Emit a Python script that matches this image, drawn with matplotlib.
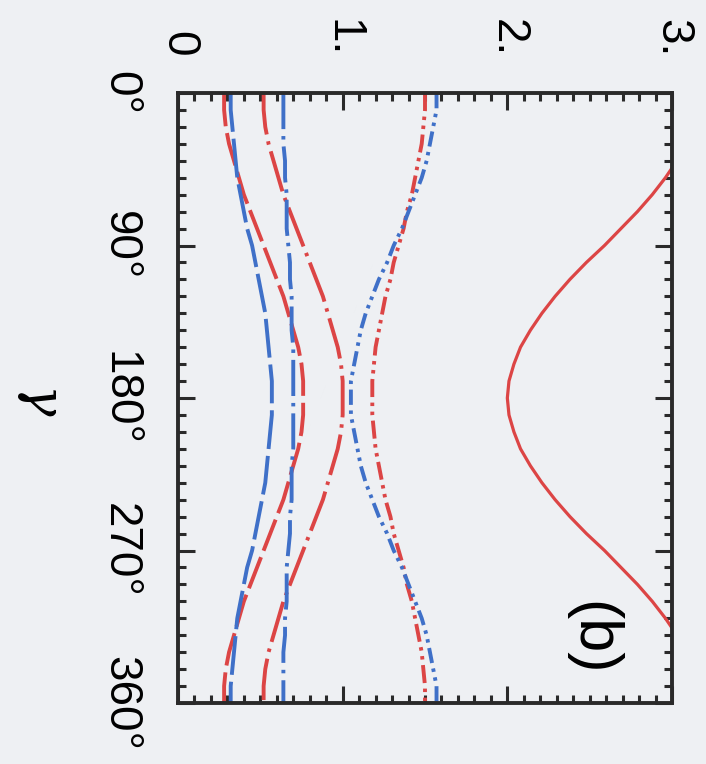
import matplotlib.pyplot as plt
from matplotlib.ticker import MultipleLocator

plt.rcParams['font.family'] = ['Liberation Sans', 'DejaVu Sans']
plt.rcParams['mathtext.fontset'] = 'dejavuserif'
plt.rcParams['lines.scale_dashes'] = False

# gamma in degrees (drawn downwards, the whole panel is turned a quarter clockwise)
gamma = list(range(0, 361, 10))

# curves, symmetric about 180 deg
red_dash = [0.28, 0.28, 0.29, 0.31, 0.34, 0.37, 0.40, 0.44, 0.48, 0.52, 0.56, 0.60, 0.64, 0.67, 0.70, 0.73, 0.75, 0.76, 0.76,
            0.76, 0.75, 0.73, 0.70, 0.67, 0.64, 0.60, 0.56, 0.52, 0.48, 0.44, 0.40, 0.37, 0.34, 0.31, 0.29, 0.28, 0.28]
blue_dash = [0.32, 0.32, 0.33, 0.34, 0.35, 0.36, 0.38, 0.40, 0.42, 0.45, 0.47, 0.49, 0.51, 0.53, 0.54, 0.55, 0.56, 0.57, 0.57,
             0.57, 0.56, 0.55, 0.54, 0.53, 0.51, 0.49, 0.47, 0.45, 0.42, 0.40, 0.38, 0.36, 0.35, 0.34, 0.33, 0.32, 0.32]
red_dashdot = [0.52, 0.52, 0.53, 0.55, 0.58, 0.61, 0.64, 0.68, 0.72, 0.76, 0.80, 0.84, 0.88, 0.91, 0.94, 0.97, 0.99, 1.00, 1.00,
               1.00, 0.99, 0.97, 0.94, 0.91, 0.88, 0.84, 0.80, 0.76, 0.72, 0.68, 0.64, 0.61, 0.58, 0.55, 0.53, 0.52, 0.52]
blue_dashdot = [0.64, 0.64, 0.64, 0.64, 0.65, 0.65, 0.66, 0.66, 0.66, 0.67, 0.68, 0.68, 0.69, 0.69, 0.69, 0.70, 0.70, 0.70, 0.70,
                0.70, 0.70, 0.70, 0.69, 0.69, 0.69, 0.68, 0.68, 0.67, 0.66, 0.66, 0.66, 0.65, 0.65, 0.64, 0.64, 0.64, 0.64]
red_dd = [1.50, 1.50, 1.49, 1.48, 1.46, 1.44, 1.42, 1.39, 1.37, 1.34, 1.31, 1.29, 1.26, 1.24, 1.22, 1.20, 1.19, 1.18, 1.18,
          1.18, 1.19, 1.20, 1.22, 1.24, 1.26, 1.29, 1.31, 1.34, 1.37, 1.39, 1.42, 1.44, 1.46, 1.48, 1.49, 1.50, 1.50]
blue_dd = [1.57, 1.57, 1.55, 1.53, 1.51, 1.48, 1.44, 1.40, 1.36, 1.31, 1.27, 1.22, 1.18, 1.14, 1.11, 1.09, 1.07, 1.05, 1.05,
           1.05, 1.07, 1.09, 1.11, 1.14, 1.18, 1.22, 1.27, 1.31, 1.36, 1.40, 1.44, 1.48, 1.51, 1.53, 1.55, 1.57, 1.57]
red_solid = [3.17, 3.16, 3.13, 3.09, 3.03, 2.96, 2.88, 2.79, 2.69, 2.59, 2.48, 2.38, 2.29, 2.21, 2.14, 2.08, 2.04, 2.01, 2.00,
             2.01, 2.04, 2.08, 2.14, 2.21, 2.29, 2.38, 2.48, 2.59, 2.69, 2.79, 2.88, 2.96, 3.03, 3.09, 3.13, 3.16, 3.17]

value_ticks = [0, 1, 2, 3]
value_labels = ['0', '1.', '2.', '3.']
gamma_ticks = [0, 90, 180, 270, 360]
gamma_labels = ['0°', '90°', '180°', '270°', '360°']

RED = '#dc4545'
BLUE = '#3f70c8'
BG = '#eef0f3'

fig = plt.figure(figsize=(7.06, 7.64), dpi=100, facecolor=BG)
ax = fig.add_axes([178 / 706, 1 - 703 / 764, 494 / 706, 610 / 764], facecolor=BG)

lw = 2.8
ax.plot(red_dash, gamma, color=RED, lw=lw, linestyle=(0, (24, 5)))
ax.plot(blue_dash, gamma, color=BLUE, lw=lw, linestyle=(0, (28, 5)))
ax.plot(red_dashdot, gamma, color=RED, lw=lw, linestyle=(0, (30, 5, 2.5, 5)))
ax.plot(blue_dashdot, gamma, color=BLUE, lw=lw, linestyle=(0, (26, 5, 2.5, 5)))
ax.plot(red_dd, gamma, color=RED, lw=lw, linestyle=(0, (13, 4, 2.5, 4, 2.5, 4)))
ax.plot(blue_dd, gamma, color=BLUE, lw=lw, linestyle=(0, (11, 4, 2.5, 4, 2.5, 4)))
ax.plot(red_solid, gamma, color=RED, lw=2.3)

ax.set_xlim(0, 3)
ax.set_ylim(360, 0)

ax.xaxis.tick_top()
ax.set_xticks(value_ticks)
ax.set_xticklabels(value_labels, rotation=-90, fontsize=33)
ax.set_yticks(gamma_ticks)
ax.set_yticklabels(gamma_labels, rotation=-90, va='center', fontsize=33)
ax.xaxis.set_minor_locator(MultipleLocator(0.1))
ax.yaxis.set_minor_locator(MultipleLocator(10))
ax.tick_params(which='both', direction='in', top=True, bottom=True, left=True, right=True,
               labeltop=True, labelbottom=False, labelleft=True, labelright=False,
               color='#2a2a2a', width=2.2)
ax.tick_params(which='major', length=12, pad=26)
ax.tick_params(which='minor', length=6)
for s in ax.spines.values():
    s.set_linewidth(2.8)
    s.set_color('#2a2a2a')

fig.text(40 / 706, 1 - 400 / 764, r'$\gamma$', rotation=-90, ha='center', va='center', fontsize=38)
ax.text(2.51, 322, '(b)', rotation=-90, ha='center', va='center', fontsize=44)

fig.savefig('out.png', dpi=100, facecolor=BG)
